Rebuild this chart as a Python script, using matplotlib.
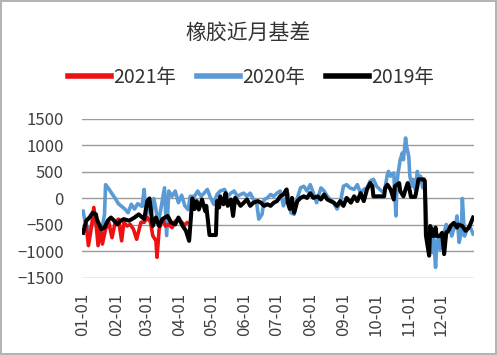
import matplotlib
matplotlib.use("Agg")
import matplotlib.pyplot as plt

plt.rcParams['font.family'] = ['Noto Sans CJK SC', 'DejaVu Sans']

# day of year (0 = 01-01) and basis values
days_2021 = [0, 3, 5, 8, 10, 12, 14, 16, 18, 21, 24, 27, 30, 33, 36, 38, 41, 44, 47, 50,
             54, 57, 60, 63, 65, 68, 69, 71, 74, 77, 80, 83, 86, 89, 92, 95, 97]
vals_2021 = [-610, -520, -890, -520, -170, -450, -890, -520, -860, -580, -450, -740, -450,
             -390, -800, -450, -520, -490, -580, -770, -450, -450, -360, -450, -700, -800,
             -1110, -580, -390, -520, -490, -550, -430, -390, -450, -500, -460]

days_2020 = [0, 2, 5, 8, 11, 14, 17, 20, 21, 24, 27, 30, 33, 36, 39, 42, 45, 48, 51, 55,
             57, 59, 61, 64, 66, 68, 70, 76, 78, 80, 83, 86, 89, 92, 95, 98, 100, 104, 107,
             110, 113, 116, 119, 122, 125, 128, 132, 135, 138, 141, 144, 147, 150, 153, 156,
             159, 162, 164, 167, 169, 172, 175, 178, 181, 184, 187, 191, 194, 197, 200, 203,
             206, 209, 212, 215, 218, 222, 225, 228, 231, 234, 237, 240, 243, 246, 249, 253,
             256, 259, 262, 265, 268, 271, 274, 277, 281, 284, 285, 287, 290, 292, 293, 294,
             296, 298, 299, 301, 302, 304, 305, 307, 308, 310, 312, 313, 315, 317, 319, 321,
             322, 324, 326, 327, 329, 330, 332, 333, 335, 337, 339, 341, 343, 344, 346, 348,
             349, 351, 353, 354, 356, 358, 361, 364]
vals_2020 = [-240, -450, -600, -500, -400, -680, -650, -300, 260, 180, 90, 0, -100, -150,
             -200, -270, -110, -200, -100, -150, 170, -360, -110, -270, 0, -200, -500, 200,
             -700, 140, 40, 140, -80, 60, -140, -210, 40, 40, 140, 40, 100, 170, 10, -110, 75,
             140, 170, 40, 100, 140, 40, 75, 100, 40, 100, -20, -80, -390, -300, -20, 10, 75,
             40, 100, 140, -140, 100, -270, -300, 10, 200, 230, 140, 260, 100, -80, 200, 140,
             40, -20, -80, -200, -80, 230, 260, 200, 170, 260, 100, 170, 200, 330, 360, 230,
             170, 100, 450, 510, 420, 480, -330, 290, 480, 730, 860, 730, 1140, 980, 790, 420,
             230, 360, 170, 510, 360, 420, 200, 230, -640, -890, -770, -1020, -640, -1300,
             -890, -710, -960, -770, -640, -490, -640, -520, -710, -580, -460, -330, -830,
             -640, 0, -710, -610, -520, -670]

days_2019 = [0, 3, 6, 9, 12, 13, 17, 20, 23, 26, 29, 32, 35, 38, 43, 48, 52, 57, 60, 62, 65,
             68, 71, 74, 79, 82, 86, 89, 93, 96, 99, 102, 104, 106, 108, 110, 111, 114, 115,
             118, 121, 124, 125, 127, 128, 131, 133, 135, 138, 140, 142, 145, 147, 150, 153,
             156, 159, 163, 166, 169, 172, 175, 178, 181, 184, 187, 190, 191, 193, 195, 197,
             200, 203, 206, 209, 212, 215, 219, 222, 225, 228, 231, 234, 237, 240, 243, 246,
             250, 253, 256, 259, 262, 265, 268, 270, 271, 278, 281, 282, 284, 287, 290, 291,
             295, 296, 299, 301, 303, 305, 306, 310, 312, 313, 318, 319, 320, 323, 324, 327,
             329, 330, 333, 335, 337, 339, 341, 343, 346, 349, 350, 354, 357, 360, 362, 364]
vals_2019 = [-650, -420, -360, -270, -300, -400, -580, -550, -420, -360, -420, -490, -420,
             -390, -420, -360, -300, -390, -50, 0, -520, -360, -520, -390, -330, -450, -490,
             -360, -520, -610, -800, 0, -200, -50, -210, -80, -20, -240, -140, -690, -690,
             -690, -50, -170, 40, -110, 100, -140, -20, -330, 10, -80, -140, -80, -20, -140,
             -80, -50, -80, -140, -110, -140, -80, -50, 40, 75, 170, -80, -200, 10, -270, -50,
             10, 40, 10, 100, 10, 40, -20, 75, -20, -50, -80, -140, -50, -140, 10, -80, 40,
             -50, 100, -50, 170, 290, 230, 40, 40, 40, 200, 260, 170, -20, 230, 290, 140, 40,
             170, 290, 140, 30, 30, 230, 360, 360, 330, -700, -1080, -520, -710, -550, -710,
             -710, -650, -1050, -640, -610, -520, -460, -550, -490, -520, -610, -550, -460,
             -360]

month_starts = [0, 31, 59, 90, 120, 151, 181, 212, 243, 273, 304, 334]
month_labels = ['01-01', '02-01', '03-01', '04-01', '05-01', '06-01',
                '07-01', '08-01', '09-01', '10-01', '11-01', '12-01']

fig = plt.figure(figsize=(4.97, 3.55), dpi=100, edgecolor='#b4b4b4', linewidth=1.5)
ax = fig.add_axes([0.165, 0.217, 0.789, 0.448])

# blue underneath, red above it, black on top
ax.plot(days_2020, vals_2020, color='#5b9bd5', lw=2.6, label='2020年', zorder=3)
ax.plot(days_2021, vals_2021, color='#ee1111', lw=2.6, label='2021年', zorder=4)
ax.plot(days_2019, vals_2019, color='black', lw=2.9, label='2019年', zorder=5)

ax.set_xlim(-1, 365)
ax.set_ylim(-1500, 1500)
ax.set_yticks(range(-1500, 1501, 500))
ax.set_xticks(month_starts)
ax.set_xticklabels(month_labels, rotation=90)
ax.grid(axis='y', color='#9a9a9a', lw=1)
ax.set_axisbelow(True)
for s in ax.spines.values():
    s.set_visible(False)
ax.tick_params(axis='both', length=0, labelsize=12, colors='#404040')
ax.tick_params(axis='y', pad=13)
ax.tick_params(axis='x', pad=11)

fig.text(0.5, 0.905, '橡胶近月基差', ha='center', va='center', fontsize=15, color='#333333')

h, l = ax.get_legend_handles_labels()
order = [1, 0, 2]
leg = fig.legend([h[i] for i in order], [l[i] for i in order], loc='center',
                 bbox_to_anchor=(0.505, 0.783), ncol=3, frameon=False, fontsize=14,
                 handlelength=2.2, handletextpad=0.1, columnspacing=1.1)
for line in leg.get_lines():
    line.set_linewidth(4)
for t in leg.get_texts():
    t.set_color('#333333')

fig.savefig('out.png', dpi=100)
